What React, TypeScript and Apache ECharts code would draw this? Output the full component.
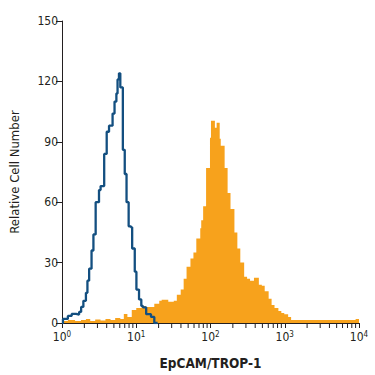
import React, { useEffect, useRef } from "react";
import * as echarts from "echarts";

// Isotype control (blue outline) – [bin start (fluorescence), count]
const isotypeEdges = [1.0, 1.03, 1.2, 1.35, 1.55, 1.7, 1.81, 1.94, 2.1, 2.2, 2.32, 2.5, 2.65, 2.84, 3.15, 3.31, 3.7, 4.0, 4.3, 4.8, 5.1, 5.4, 5.6, 5.85, 6.1, 6.6, 7.0, 7.4, 7.9, 8.5, 8.81, 9.55, 10.05, 10.9, 11.7, 12.3, 13.6, 15.8, 17.5, 19.4];
const isotypeCounts = [0, 2, 3.5, 4.5, 4.2, 5.5, 8, 11, 15, 21, 27, 36, 44, 60, 66, 68, 84, 95, 98, 104, 110, 114, 121, 124, 117, 86, 74, 60, 48, 47.5, 37, 25.5, 16.6, 11.7, 8.5, 7.8, 4.4, 3, 0, 0];

// EpCAM/TROP-1 stained (orange filled) – [bin start (fluorescence), count]
const stainedEdges = [1, 1.2, 1.5, 1.8, 2.1, 2.4, 2.8, 3.3, 3.85, 4.5, 5.2, 6.1, 6.8, 7.6, 8.7, 10, 11.8, 13.5, 17.5, 20.4, 22, 27, 32, 35.2, 39.7, 43.5, 47.6, 53.7, 58.9, 64.4, 72.8, 75, 79.6, 87.2, 98.4, 101.5, 114.6, 121, 133, 137.4, 155, 170, 186, 210, 230, 252, 284, 311, 341, 385, 448, 491, 537, 607, 665, 728, 821, 899, 985, 1111, 1218, 9000, 10000];
const stainedCounts = [1, 1.5, 1, 1.5, 2, 1, 1.8, 1.2, 2, 1.5, 2.5, 2, 4.5, 3, 6.5, 7.5, 8.5, 8, 9.5, 11, 11.5, 10.5, 11, 14, 16.6, 22, 28, 32, 35, 42, 47, 51, 58, 77, 92, 100.5, 97, 99.5, 91.5, 88, 77, 64.6, 56.6, 45, 37, 30, 23, 22, 21, 22.5, 19, 18.5, 15.8, 12, 9, 7.5, 6, 5, 4.4, 3, 1.5, 2, 2];

const yTicks = [0, 30, 60, 90, 120, 150];
const decades = [1, 10, 100, 1000];
const minorMultipliers = [2, 3, 4, 5, 6, 7, 8, 9];

const FONT = "'Liberation Sans Narrow', 'DejaVu Sans Condensed', sans-serif";
const INK = "#231f20";

export default function App() {
  const ref = useRef<HTMLDivElement>(null);
  useEffect(() => {
    document.body.style.margin = "0";
    if (!ref.current) return;
    const chart = echarts.init(ref.current, undefined, { renderer: "svg" });
    const isotype = isotypeEdges.map((e, i) => [e, isotypeCounts[i]]);
    const stained = stainedEdges.map((e, i) => [e, stainedCounts[i]]);
    const minor: number[][] = [];
    decades.forEach((d) => minorMultipliers.forEach((m) => minor.push([d * m, 0])));

    chart.setOption({
      animation: false,
      grid: { left: 55, right: 16, top: 21, bottom: 46 },
      xAxis: {
        type: "log",
        logBase: 10,
        min: 1,
        max: 10000,
        name: "EpCAM/TROP-1",
        nameLocation: "middle",
        nameGap: 33,
        nameTextStyle: { fontFamily: FONT, fontSize: 13.5, color: INK, fontWeight: "bold" },
        axisLine: { show: true, lineStyle: { color: INK, width: 1 } },
        axisTick: { show: true, inside: false, length: 5, lineStyle: { color: INK } },
        splitLine: { show: false },
        minorTick: { show: false },
        axisLabel: {
          margin: 7,
          formatter: (v: number) => "{b|10}{s|" + Math.round(Math.log10(v)) + "}",
          rich: {
            b: { fontFamily: FONT, fontSize: 12, color: INK },
            s: { fontFamily: FONT, fontSize: 8, color: INK, verticalAlign: "top", padding: [0, 0, 6, 0] },
          },
        },
      },
      yAxis: {
        type: "value",
        min: yTicks[0],
        max: yTicks[yTicks.length - 1],
        interval: 30,
        name: "Relative Cell Number",
        nameLocation: "middle",
        nameGap: 41,
        nameTextStyle: { fontFamily: FONT, fontSize: 13, color: INK },
        axisLine: { show: true, lineStyle: { color: INK, width: 1 } },
        axisTick: { show: true, inside: false, length: 6, lineStyle: { color: INK } },
        splitLine: { show: false },
        axisLabel: { fontFamily: FONT, fontSize: 12, color: INK, margin: 4 },
      },
      series: [
        {
          type: "line",
          data: stained,
          step: "end",
          symbol: "none",
          lineStyle: { width: 0, color: "#f7a21c" },
          areaStyle: { color: "#f7a21c", opacity: 1 },
          z: 2,
        },
        {
          type: "line",
          data: isotype,
          step: "end",
          symbol: "none",
          lineStyle: { width: 2.3, color: "#134f80" },
          z: 3,
        },
        {
          type: "custom",
          clip: false,
          data: minor,
          encode: { x: 0, y: 1 },
          z: 4,
          renderItem: (_params: any, api: any) => {
            const p = api.coord([api.value(0), 0]);
            return {
              type: "line",
              shape: { x1: p[0], y1: p[1], x2: p[0], y2: p[1] + 5 },
              style: { stroke: INK, lineWidth: 1 },
            };
          },
        },
      ],
    });
    return () => chart.dispose();
  }, []);
  return <div ref={ref} style={{ width: 375, height: 375 }} />;
}
